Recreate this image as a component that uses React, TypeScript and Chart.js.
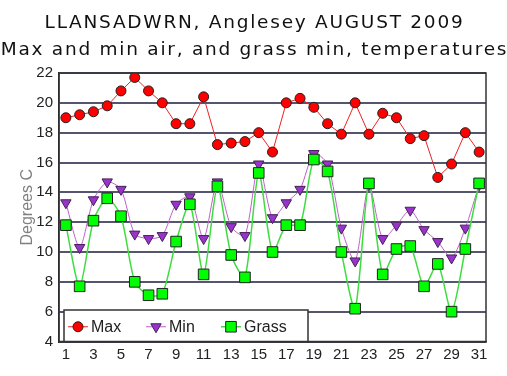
import React, { useEffect, useRef } from "react";
import { Chart, registerables } from "chart.js";

Chart.register(...registerables);

const days = ["1","2","3","4","5","6","7","8","9","10","11","12","13","14","15","16","17","18","19","20","21","22","23","24","25","26","27","28","29","30","31"];
const maxTemps = [19.0,19.2,19.4,19.8,20.8,21.7,20.8,20.0,18.6,18.6,20.4,17.2,17.3,17.4,18.0,16.7,20.0,20.3,19.7,18.6,17.9,20.0,17.9,19.3,19.0,17.6,17.8,15.0,15.9,18.0,16.7];
const minTemps = [13.3,10.3,13.5,14.7,14.2,11.2,10.9,11.1,13.2,13.7,10.9,14.7,11.7,11.1,15.9,12.3,13.3,14.2,16.6,15.9,11.6,9.4,14.5,10.9,11.8,12.8,11.5,10.7,9.6,11.6,14.5];
const grassTemps = [11.8,7.7,12.1,13.6,12.4,8.0,7.1,7.2,10.7,13.2,8.5,14.4,9.8,8.3,15.3,10.0,11.8,11.8,16.2,15.4,10.0,6.2,14.6,8.5,10.2,10.4,7.7,9.2,6.0,10.2,14.6];
const titleLines = ["LLANSADWRN, Anglesey AUGUST 2009", "Max and min air, and grass min, temperatures"];
const yTitle = "Degrees C";
const seriesNames = ["Max", "Min", "Grass"];

const W = 507;
const H = 376;

function drawMarker(ctx: CanvasRenderingContext2D, style: string, x: number, y: number, r: number, rot: number) {
  ctx.beginPath();
  if (style === "circle") {
    ctx.arc(x, y, r, 0, Math.PI * 2);
  } else if (style === "rect") {
    const s = Math.SQRT1_2 * r;
    ctx.rect(x - s, y - s, 2 * s, 2 * s);
  } else if (style === "triangle") {
    let rad = (rot * Math.PI) / 180;
    ctx.moveTo(x + Math.sin(rad) * r, y - Math.cos(rad) * r);
    rad += (2 * Math.PI) / 3;
    ctx.lineTo(x + Math.sin(rad) * r, y - Math.cos(rad) * r);
    rad += (2 * Math.PI) / 3;
    ctx.lineTo(x + Math.sin(rad) * r, y - Math.cos(rad) * r);
    ctx.closePath();
  }
  ctx.fill();
  ctx.stroke();
}

const overlay = {
  id: "overlay",
  afterDraw(chart: any) {
    const ctx = chart.ctx;
    const a = chart.chartArea;
    ctx.save();
    // plot border
    ctx.strokeStyle = "#333";
    ctx.lineWidth = 1.5;
    ctx.strokeRect(a.left, a.top, a.right - a.left, a.bottom - a.top);
    // titles
    ctx.save();
    ctx.fillStyle = "#111";
    ctx.textAlign = "center";
    ctx.textBaseline = "alphabetic";
    ctx.font = "18.5px 'DejaVu Sans'";
    (ctx as any).letterSpacing = "1.75px";
    ctx.fillText(titleLines[0], W / 2 + 1, 28);
    ctx.fillText(titleLines[1], W / 2 + 1, 55);
    ctx.restore();
    // y title
    ctx.save();
    ctx.translate(28, (a.top + a.bottom) / 2);
    ctx.rotate(-Math.PI / 2);
    ctx.fillStyle = "#808080";
    ctx.font = "16px 'Liberation Sans'";
    ctx.textAlign = "center";
    ctx.textBaseline = "middle";
    ctx.fillText(yTitle, 0, 0);
    ctx.restore();
    // legend box
    const lx = a.left + 5;
    const ly = 310;
    const lw = 308 - lx;
    const lh = a.bottom - ly;
    ctx.fillStyle = "#fff";
    ctx.fillRect(lx, ly, lw, lh);
    ctx.strokeStyle = "#333";
    ctx.lineWidth = 1.5;
    ctx.strokeRect(lx, ly, lw, lh);
    const cy = ly + lh / 2 + 1;
    const ds = chart.data.datasets;
    const markerX = [78, 156, 231];
    ctx.font = "16px 'Liberation Sans'";
    ctx.textAlign = "left";
    ctx.textBaseline = "middle";
    for (let i = 0; i < 3; i++) {
      const d = ds[i];
      const mx = markerX[i];
      ctx.strokeStyle = d.borderColor;
      ctx.lineWidth = d.borderWidth;
      ctx.beginPath();
      ctx.moveTo(mx - 10, cy);
      ctx.lineTo(mx + 10, cy);
      ctx.stroke();
      ctx.fillStyle = d.pointBackgroundColor;
      ctx.strokeStyle = d.pointBorderColor;
      ctx.lineWidth = 1;
      drawMarker(ctx, d.pointStyle, mx, cy, d.pointRadius, d.pointRotation || 0);
      ctx.fillStyle = "#222";
      ctx.fillText(seriesNames[i], mx + 13, cy + 1);
    }
    ctx.restore();
  },
};

export default function App() {
  const ref = useRef<HTMLCanvasElement>(null);
  useEffect(() => {
    document.body.style.margin = "0";
    const chart = new Chart(ref.current!, {
      type: "line",
      data: {
        labels: days,
        datasets: [
          {
            label: seriesNames[0],
            data: maxTemps,
            borderColor: "#ee2222",
            borderWidth: 1,
            pointStyle: "circle",
            pointRadius: 5,
            pointBackgroundColor: "#ff0000",
            pointBorderColor: "#222",
            pointBorderWidth: 1,
            tension: 0,
            order: 3,
          },
          {
            label: seriesNames[1],
            data: minTemps,
            borderColor: "#c060c8",
            borderWidth: 1,
            pointStyle: "triangle",
            pointRotation: 180,
            pointRadius: 6,
            pointBackgroundColor: "#9933cc",
            pointBorderColor: "#442255",
            pointBorderWidth: 1,
            tension: 0.25,
            order: 2,
          },
          {
            label: seriesNames[2],
            data: grassTemps,
            borderColor: "#3ddd3d",
            borderWidth: 1.5,
            pointStyle: "rect",
            pointRadius: 7.5,
            pointBackgroundColor: "#00ff00",
            pointBorderColor: "#222",
            pointBorderWidth: 1,
            tension: 0.25,
            order: 1,
          },
        ] as any,
      },
      options: {
        animation: false,
        responsive: false,
        devicePixelRatio: 1,
        layout: { padding: { top: 73, right: 21, left: 0, bottom: 0 } },
        plugins: { legend: { display: false }, title: { display: false }, tooltip: { enabled: false } },
        scales: {
          x: {
            type: "category",
            offset: true,
            grid: { display: false, drawTicks: false },
            border: { display: true, color: "#222", width: 1.5 },
            ticks: {
              autoSkip: false,
              maxRotation: 0,
              padding: 4,
              color: "#222",
              font: { family: "'Liberation Sans'", size: 15 },
              callback: (_v: any, i: number) => (i % 2 === 0 ? days[i] : ""),
            },
            afterFit: (s: any) => { s.height = 34.5; },
          },
          y: {
            min: 4,
            max: 22,
            ticks: {
              stepSize: 2,
              padding: 6,
              color: "#222",
              font: { family: "'Liberation Sans'", size: 15 },
            },
            grid: { color: "#55556e", lineWidth: 2, drawTicks: false },
            border: { display: true, color: "#222", width: 1.5 },
            afterFit: (s: any) => { s.width = 59; },
          },
        },
      },
      plugins: [overlay],
    });
    return () => chart.destroy();
  }, []);
  return (
    <div style={{ width: W, height: H }}>
      <canvas ref={ref} width={W} height={H} style={{ display: "block" }} />
    </div>
  );
}
